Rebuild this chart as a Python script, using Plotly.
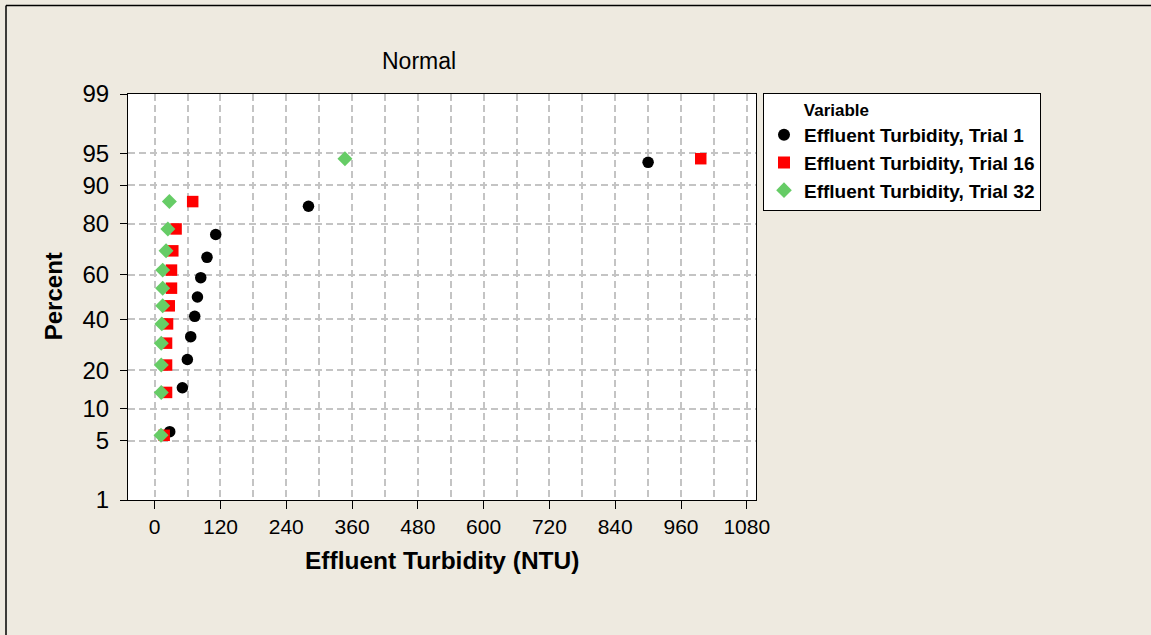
import plotly.graph_objects as go
from statistics import NormalDist

# ---- data ----
trial1_ntu = [27.4, 50.5, 59.6, 65.7, 73, 78, 84, 95.4, 111.3, 280.5, 900]
trial1_pct = [6.14, 14.91, 23.68, 32.46, 41.23, 50.0, 58.77, 67.54, 76.32, 85.09, 93.86]

trial16_ntu = [17.3, 21.6, 21.6, 21.6, 23.4, 26.5, 30.6, 30.6, 33, 39, 69.3, 996]
trial16_pct = [5.65, 13.71, 21.77, 29.84, 37.90, 45.97, 54.03, 62.10, 70.16, 78.23, 86.29, 94.35]

trial32_ntu = [11.5, 12, 12, 12, 13, 14.6, 14.6, 14.6, 20.7, 24, 26.8, 347]
trial32_pct = [5.65, 13.71, 21.77, 29.84, 37.90, 45.97, 54.03, 62.10, 70.16, 78.23, 86.29, 94.35]

pct_ticks = [1, 5, 10, 20, 40, 60, 80, 90, 95, 99]
x_ticks = [0, 120, 240, 360, 480, 600, 720, 840, 960, 1080]

series_names = ["Effluent Turbidity, Trial 1", "Effluent Turbidity, Trial 16",
                "Effluent Turbidity, Trial 32"]

# ---- normal probability scale ----
nd = NormalDist()
def prob(p):
    return nd.inv_cdf(p / 100.0)

BG = "#EEEAE0"
FONT = "Liberation Sans, Arial, sans-serif"
GRID = "#C4C4C4"

fig = go.Figure()
fig.add_trace(go.Scatter(x=trial1_ntu, y=[prob(p) for p in trial1_pct], mode="markers",
                         name=series_names[0],
                         marker=dict(symbol="circle", size=11.5, color="black")))
fig.add_trace(go.Scatter(x=trial16_ntu, y=[prob(p) for p in trial16_pct], mode="markers",
                         name=series_names[1],
                         marker=dict(symbol="square", size=11.5, color="#FF0000")))
fig.add_trace(go.Scatter(x=trial32_ntu, y=[prob(p) for p in trial32_pct], mode="markers",
                         name=series_names[2],
                         marker=dict(symbol="diamond", size=11.5, color="#66CC66")))

L, R, T, B = 128, 756, 93.5, 500
W, H = 1151, 635
pw, ph = R - L, B - T

def px_x(px):
    return (px - L) / pw

def px_y(py):
    return (B - py) / ph

fig.update_layout(
    width=W, height=H,
    margin=dict(l=L, r=W - R, t=T, b=H - B, autoexpand=False),
    paper_bgcolor=BG, plot_bgcolor="white",
    font=dict(family=FONT, color="black", size=20),
    showlegend=True,
    legend=dict(
        x=px_x(763), xanchor="left", y=1.003, yanchor="top",
        bgcolor="white", bordercolor="black", borderwidth=1,
        font=dict(family=FONT, size=19, color="black", weight="bold"),
        title=dict(text="&nbsp;" * 8 + "<b>Variable</b>", font=dict(family=FONT, size=17)),
        itemsizing="constant",
    ),
    xaxis=dict(
        range=[-48.7, 1096.8], tickvals=x_ticks, ticktext=[str(v) for v in x_ticks],
        ticks="outside", ticklen=8, tickcolor="black", tickwidth=1,
        showline=True, linecolor="black", linewidth=1, mirror=True,
        showgrid=True, gridcolor=GRID, griddash="7px,4px", gridwidth=1.5,
        minor=dict(dtick=60, tick0=0, showgrid=True, gridcolor=GRID,
                   griddash="7px,4px", gridwidth=1.5, ticks=""),
        zeroline=False,
        tickfont=dict(family=FONT, size=21),
    ),
    yaxis=dict(
        range=[prob(1), prob(99)], tickvals=[prob(p) for p in pct_ticks],
        ticktext=[str(p) for p in pct_ticks],
        ticks="outside", ticklen=7, tickcolor="black", tickwidth=1,
        showline=True, linecolor="black", linewidth=1, mirror=True,
        showgrid=True, gridcolor=GRID, griddash="7px,4px", gridwidth=1.5,
        zeroline=False, ticklabelstandoff=6,
        tickfont=dict(family=FONT, size=24),
    ),
    annotations=[
        dict(text="Normal", xref="paper", yref="paper", x=px_x(419), y=px_y(60),
             xanchor="center", yanchor="middle", showarrow=False,
             font=dict(family=FONT, size=23)),
        dict(text="<b>Effluent Turbidity (NTU)</b>", xref="paper", yref="paper",
             x=px_x(442), y=px_y(561), xanchor="center", yanchor="middle",
             showarrow=False, font=dict(family=FONT, size=24.5)),
        dict(text="<b>Percent</b>", xref="paper", yref="paper",
             x=px_x(53), y=px_y(296), xanchor="center", yanchor="middle",
             textangle=-90, showarrow=False, font=dict(family=FONT, size=24)),
    ],
    shapes=[
        dict(type="line", xref="paper", yref="paper", x0=px_x(6), x1=px_x(1160),
             y0=px_y(5), y1=px_y(5), line=dict(color="black", width=1.5)),
        dict(type="line", xref="paper", yref="paper", x0=px_x(6), x1=px_x(6),
             y0=px_y(5), y1=px_y(640), line=dict(color="black", width=1.5)),
    ],
)

fig.write_html("out.html")
